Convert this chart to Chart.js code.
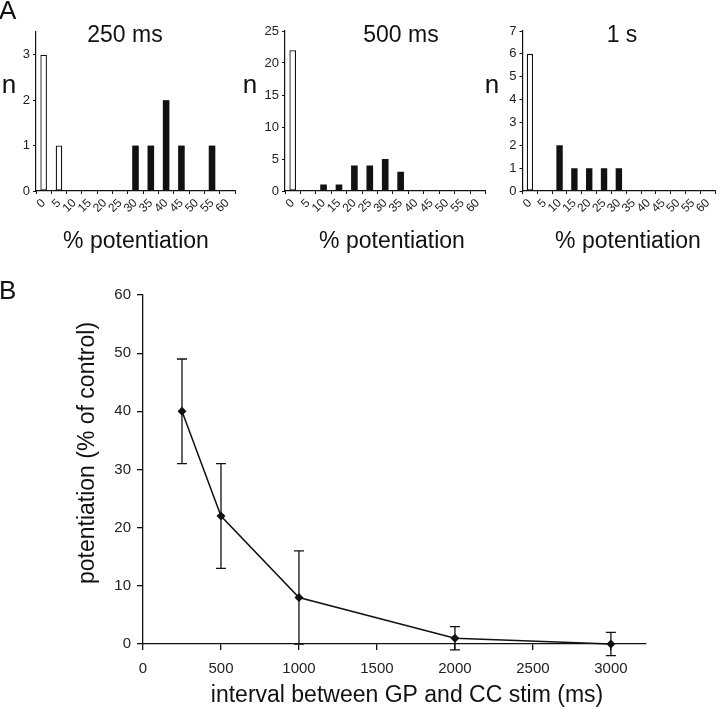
<!DOCTYPE html>
<html>
<head>
<meta charset="utf-8">
<script src="https://cdn.jsdelivr.net/npm/chart.js@4.4.1/dist/chart.umd.min.js"></script>
<style>
  body { margin: 0; background: #fff; width: 720px; height: 712px; position: relative; overflow: hidden; }
  canvas { position: absolute; }
</style>
</head>
<body>
<canvas id="a1" width="240" height="260" style="left:0;top:0"></canvas>
<canvas id="a2" width="250" height="260" style="left:240px;top:0"></canvas>
<canvas id="a3" width="240" height="260" style="left:480px;top:0"></canvas>
<canvas id="b" width="720" height="442" style="left:0;top:270px"></canvas>
<script>
// histogram bins (% potentiation)
const bins = ['0', '5', '10', '15', '20', '25', '30', '35', '40', '45', '50', '55', '60'];

// counts per bin: open bars (no potentiation) and filled bars (potentiated)
const open250   = [3, 1, 0, 0, 0, 0, 0, 0, 0, 0, 0, 0, 0];
const filled250 = [0, 0, 0, 0, 0, 0, 1, 1, 2, 1, 0, 1, 0];
const open500   = [22, 0, 0, 0, 0, 0, 0, 0, 0, 0, 0, 0, 0];
const filled500 = [0, 0, 1, 1, 4, 4, 5, 3, 0, 0, 0, 0, 0];
const open1s    = [6, 0, 0, 0, 0, 0, 0, 0, 0, 0, 0, 0, 0];
const filled1s  = [0, 0, 2, 1, 1, 1, 1, 0, 0, 0, 0, 0, 0];

// panel B: interval (ms) vs potentiation (% of control) +/- error
const intervals = [250, 500, 1000, 2000, 3000];
const meanPot = [40, 22, 8, 1, 0];
const errPot = [9, 9, 8, 2, 2];
const intervalTicks = [0, 500, 1000, 1500, 2000, 2500, 3000];

const FONT = '"Liberation Sans", Arial, Helvetica, sans-serif';
const INK = '#111';

// draws free text (panel letters, titles, axis names)
const overlayText = {
  id: 'overlayText',
  afterDraw(chart, args, opts) {
    const ctx = chart.ctx;
    (opts.items || []).forEach(t => {
      ctx.save();
      ctx.fillStyle = INK;
      ctx.font = t.size + 'px ' + FONT;
      ctx.textAlign = t.align || 'center';
      ctx.textBaseline = 'middle';
      ctx.translate(t.x, t.y);
      if (t.rotate) ctx.rotate(t.rotate);
      ctx.fillText(t.text, 0, 0);
      ctx.restore();
    });
  }
};

// vertical error bars with caps, placed through the chart's scales
const errorBars = {
  id: 'errorBars',
  beforeDatasetsDraw(chart, args, opts) {
    if (!opts.errors) return;
    const ctx = chart.ctx, xs = chart.scales.x, ys = chart.scales.y;
    ctx.save();
    ctx.strokeStyle = INK;
    ctx.lineWidth = 1.3;
    opts.xs.forEach((xv, i) => {
      const x = xs.getPixelForValue(xv);
      const top = ys.getPixelForValue(opts.ys[i] + opts.errors[i]);
      const bot = ys.getPixelForValue(opts.ys[i] - opts.errors[i]);
      ctx.beginPath();
      ctx.moveTo(x, top); ctx.lineTo(x, bot);
      ctx.moveTo(x - 5, top); ctx.lineTo(x + 5, top);
      ctx.moveTo(x - 5, bot); ctx.lineTo(x + 5, bot);
      ctx.stroke();
    });
    ctx.restore();
  }
};

Chart.register(overlayText, errorBars);

function histogram(id, open, filled, o) {
  const h = document.getElementById(id).height;
  return new Chart(document.getElementById(id), {
    type: 'bar',
    data: {
      labels: bins,
      datasets: [
        { data: open, backgroundColor: '#fff', borderColor: INK,
          borderWidth: c => (c.raw > 0 ? 1.3 : 0), borderSkipped: false },
        { data: filled, backgroundColor: INK, borderWidth: 0 }
      ]
    },
    options: {
      responsive: false,
      animation: false,
      barPercentage: 0.43,
      categoryPercentage: 1,
      layout: { padding: { left: 0, top: o.top, right: o.right, bottom: 0 } },
      plugins: {
        legend: { display: false },
        tooltip: { enabled: false },
        overlayText: { items: o.texts }
      },
      scales: {
        x: {
          stacked: true,
          afterFit: s => { s.height = h - o.bottom; },
          border: { color: INK, width: 1.2 },
          grid: { drawOnChartArea: false, tickLength: 3, color: INK },
          ticks: { color: '#222', font: { family: FONT, size: 12 },
                   minRotation: 45, maxRotation: 45, autoSkip: false, padding: 2 }
        },
        y: {
          stacked: true,
          min: 0, max: o.yMax,
          afterFit: s => { s.width = o.left; },
          border: { color: INK, width: 1.2 },
          grid: { drawOnChartArea: false, tickLength: 3, color: INK },
          ticks: { stepSize: o.yStep, includeBounds: false, color: '#222',
                   font: { family: FONT, size: 13 }, padding: 3 }
        }
      }
    }
  });
}

histogram('a1', open250, filled250, {
  yMax: 3.5, yStep: 1, left: 36, top: 32, right: 5, bottom: 191,
  texts: [
    { text: 'A', x: -1, y: 12, size: 26, align: 'left' },
    { text: '250 ms', x: 125, y: 36, size: 23 },
    { text: 'n', x: 9, y: 86, size: 26 },
    { text: '% potentiation', x: 136, y: 242, size: 23 }
  ]
});

histogram('a2', open500, filled500, {
  yMax: 25, yStep: 5, left: 45, top: 31, right: 2, bottom: 191,
  texts: [
    { text: '500 ms', x: 161, y: 36, size: 23 },
    { text: 'n', x: 10, y: 86, size: 26 },
    { text: '% potentiation', x: 152, y: 242, size: 23 }
  ]
});

histogram('a3', open1s, filled1s, {
  yMax: 7, yStep: 1, left: 42.5, top: 31, right: 0, bottom: 191,
  texts: [
    { text: '1 s', x: 142, y: 36, size: 23 },
    { text: 'n', x: 12, y: 86, size: 26 },
    { text: '% potentiation', x: 148, y: 242, size: 23 }
  ]
});

new Chart(document.getElementById('b'), {
  type: 'line',
  data: {
    datasets: [{
      data: intervals.map((x, i) => ({ x: x, y: meanPot[i] })),
      borderColor: INK,
      borderWidth: 1.5,
      pointStyle: 'rectRot',
      pointRadius: 4.5,
      pointBackgroundColor: INK,
      pointBorderColor: INK,
      pointBorderWidth: 0,
      tension: 0,
      clip: false
    }]
  },
  options: {
    responsive: false,
    animation: false,
    layout: { padding: { left: 0, top: 25, right: 74, bottom: 0 } },
    plugins: {
      legend: { display: false },
      tooltip: { enabled: false },
      errorBars: { xs: intervals, ys: meanPot, errors: errPot },
      overlayText: {
        items: [
          { text: 'B', x: -1, y: 22, size: 26, align: 'left' },
          { text: 'potentiation (% of control)', x: 88, y: 183, size: 23, rotate: -Math.PI / 2 },
          { text: 'interval between GP and CC stim (ms)', x: 407, y: 426, size: 23 }
        ]
      }
    },
    scales: {
      x: {
        type: 'linear',
        min: 0, max: 3225,
        afterFit: s => { s.height = 442 - 374; },
        afterBuildTicks: s => { s.ticks = intervalTicks.map(v => ({ value: v })); },
        border: { color: INK, width: 1.3 },
        grid: { drawOnChartArea: false, tickLength: 6, color: INK, lineWidth: 1.3 },
        ticks: { color: '#222', font: { family: FONT, size: 15 }, padding: 10,
                 callback: v => String(v) }
      },
      y: {
        min: 0, max: 60,
        afterFit: s => { s.width = 143; },
        border: { color: INK, width: 1.3 },
        grid: { drawOnChartArea: false, tickLength: 6, color: INK, lineWidth: 1.3 },
        ticks: { stepSize: 10, color: '#222', font: { family: FONT, size: 15 }, padding: 6 }
      }
    }
  }
});
</script>
</body>
</html>
